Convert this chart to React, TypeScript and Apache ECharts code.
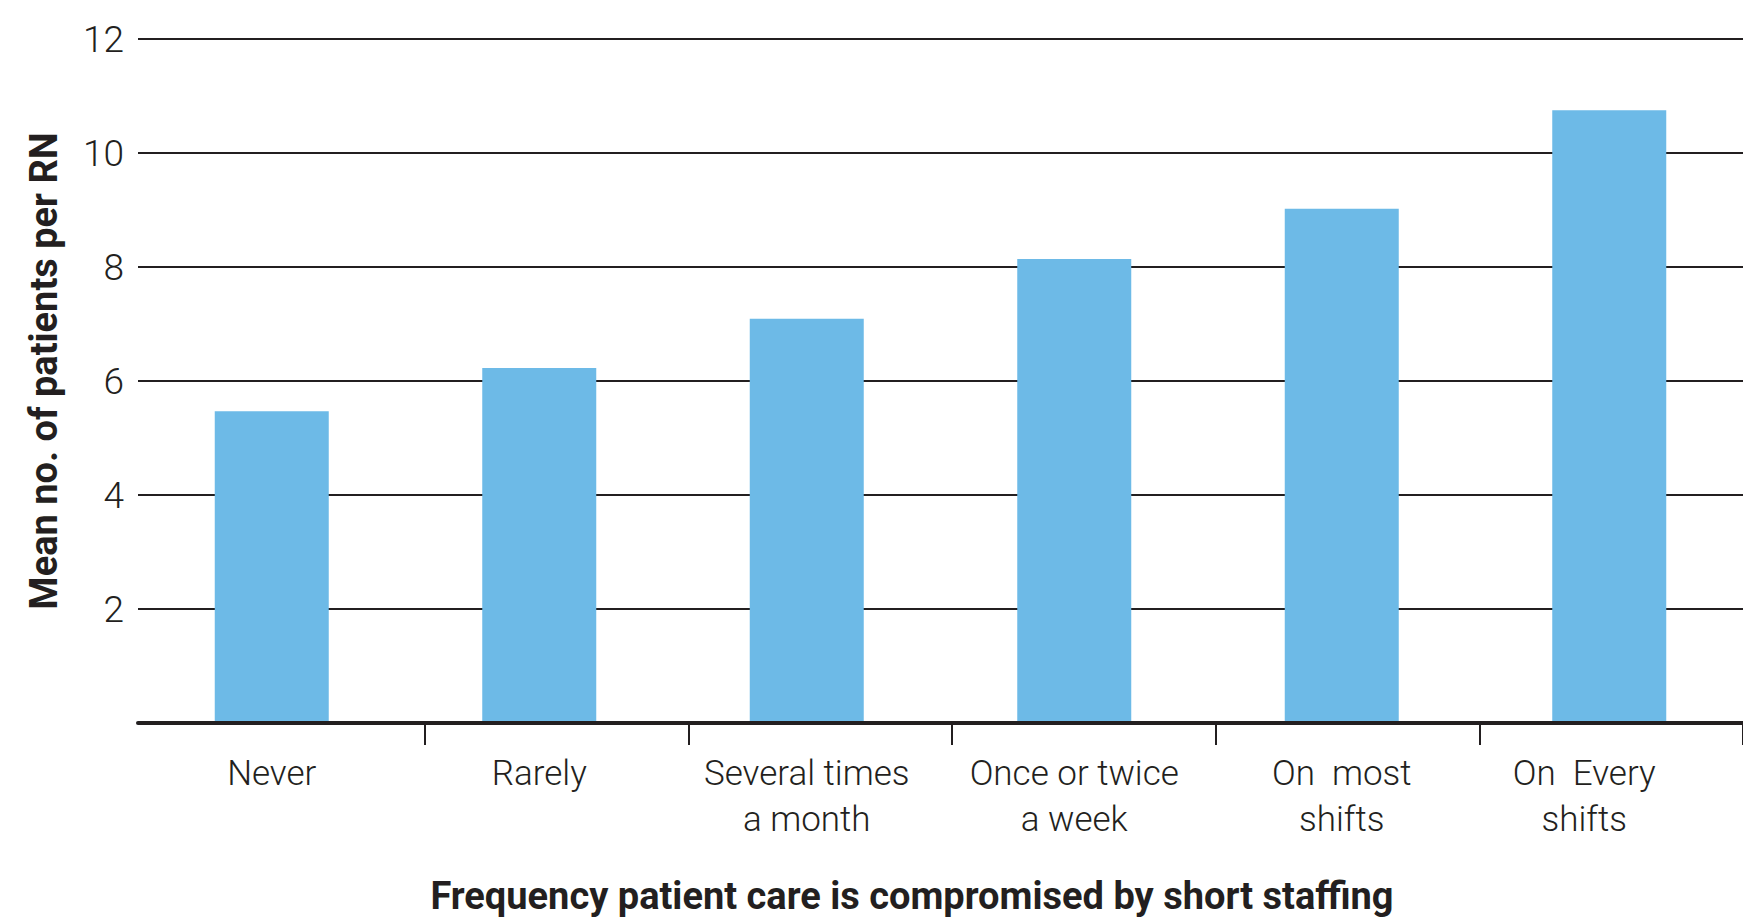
import React, { useEffect, useRef } from "react";
import * as echarts from "echarts";

const categories = [
  "Never",
  "Rarely",
  "Several times\na month",
  "Once or twice\na week",
  "On  most\nshifts",
  "On  Every\nshifts",
];
const meanPatients = [5.47, 6.23, 7.09, 8.14, 9.02, 10.75];
const yTicks = { min: 0, max: 12, interval: 2 };
const yTitle = "Mean no. of patients per RN";
const xTitle = "Frequency patient care is compromised by short staffing";

const INK = "#231f20";

export default function App() {
  const ref = useRef<HTMLDivElement>(null);
  useEffect(() => {
    if (!ref.current) return;
    const chart = echarts.init(ref.current, undefined, { renderer: "svg" });
    const catData = categories.map((c, i) =>
      i === categories.length - 1
        ? { value: c, textStyle: { padding: [0, 50, 0, 0] } }
        : c
    );
    chart.setOption({
      animation: false,
      backgroundColor: "#ffffff",
      grid: [
        { left: 138, width: 1607, top: 39, bottom: 199 },
        { left: 425, width: 1320, top: 39, bottom: 199 },
      ],
      xAxis: [
        {
          type: "category",
          gridIndex: 0,
          data: catData,
          axisLine: { show: true, lineStyle: { color: INK, width: 4 } },
          axisTick: { show: false },
          axisLabel: {
            color: INK,
            fontFamily: "Roboto",
            fontWeight: 300,
            fontSize: 35,
            lineHeight: 46,
            margin: 27,
            interval: 0,
          },
          z: 5,
        },
        {
          type: "value",
          gridIndex: 1,
          min: 1,
          max: 6,
          interval: 1,
          axisLine: { show: false },
          axisTick: { show: true, length: 22, lineStyle: { color: INK, width: 2 } },
          axisLabel: { show: false },
          splitLine: { show: false },
        },
      ],
      yAxis: [
        {
          type: "value",
          gridIndex: 0,
          min: yTicks.min,
          max: yTicks.max,
          interval: yTicks.interval,
          axisLine: { show: false },
          axisTick: { show: false },
          axisLabel: {
            showMinLabel: false,
            color: INK,
            fontFamily: "Roboto",
            fontWeight: 300,
            fontSize: 37,
            margin: 14,
          },
          splitLine: { show: true, lineStyle: { color: INK, width: 2 } },
        },
        {
          type: "value",
          gridIndex: 1,
          min: 0,
          max: 12,
          show: false,
          splitLine: { show: false },
        },
      ],
      series: [
        {
          type: "bar",
          xAxisIndex: 0,
          yAxisIndex: 0,
          data: meanPatients,
          barWidth: 114,
          itemStyle: { color: "#6DBAE7" },
        },
      ],
      graphic: [
        {
          type: "text",
          x: 44,
          y: 371,
          rotation: Math.PI / 2,
          style: {
            text: yTitle,
            fill: INK,
            font: "bold 38px Roboto",
            align: "center",
            verticalAlign: "middle",
          },
        },
        {
          type: "text",
          x: 912,
          y: 896,
          style: {
            text: xTitle,
            fill: INK,
            font: "bold 38px Roboto",
            align: "center",
            verticalAlign: "middle",
          },
        },
      ],
    });
    return () => chart.dispose();
  }, []);
  return (
    <div
      ref={ref}
      style={{ position: "fixed", left: 0, top: 0, width: 1743, height: 922, background: "#fff" }}
    />
  );
}
